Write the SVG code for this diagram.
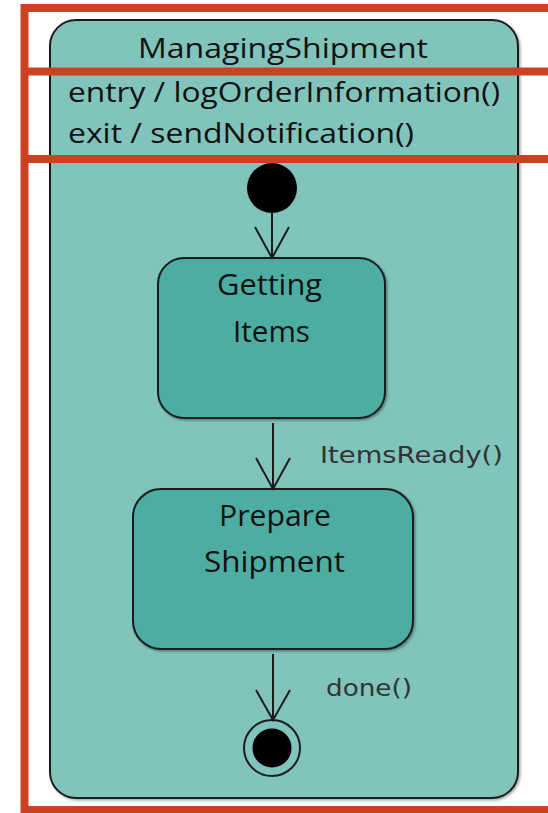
<svg xmlns="http://www.w3.org/2000/svg" width="548" height="813" viewBox="0 0 548 813">
  <defs>
    <style>
      .composite { fill: #80C4BC; stroke: #1c1c1c; stroke-width: 2; }
      .state { fill: #4DADA2; stroke: #1c1c1c; stroke-width: 2; }
      .title { font-family: "Open Sans", Lato, sans-serif; fill: #111; }
      .label { font-family: "DejaVu Sans", sans-serif; font-size: 23px; fill: #333; }
      .edge { stroke: #1c1c1c; stroke-width: 2; fill: none; }
      .head { stroke: #1c1c1c; stroke-width: 2; fill: none; stroke-linejoin: miter; }
      .mark { stroke: #CC4122; stroke-width: 8; fill: none; }
    </style>
    <filter id="shadow" x="-5%" y="-5%" width="110%" height="110%">
      <feDropShadow dx="1.5" dy="1.5" stdDeviation="1" flood-color="#000" flood-opacity="0.35"/>
    </filter>
  </defs>

  <rect width="548" height="813" fill="#ffffff"/>

  <!-- composite state with entry/exit actions -->
  <g id="state-ManagingShipment">
    <rect class="composite" x="50" y="20" width="468" height="778" rx="26" ry="26" filter="url(#shadow)"/>
    <text class="title" x="138" y="58" font-size="27" textLength="290" lengthAdjust="spacingAndGlyphs">ManagingShipment</text>
    <text class="title" x="68" y="102" font-size="27" textLength="432" lengthAdjust="spacingAndGlyphs">entry / logOrderInformation()</text>
    <text class="title" x="68" y="143" font-size="27" textLength="346" lengthAdjust="spacingAndGlyphs">exit / sendNotification()</text>
  </g>

  <!-- initial pseudo-state -->
  <g id="initial">
    <circle cx="272" cy="188" r="25" fill="#000"/>
  </g>

  <g id="state-GettingItems">
    <rect class="state" x="158" y="258" width="227" height="160" rx="26" ry="26" filter="url(#shadow)"/>
    <text class="title" x="217" y="295" font-size="30" textLength="105" lengthAdjust="spacingAndGlyphs">Getting</text>
    <text class="title" x="233" y="342" font-size="30" textLength="77" lengthAdjust="spacingAndGlyphs">Items</text>
  </g>

  <g id="state-PrepareShipment">
    <rect class="state" x="133" y="489" width="280" height="160" rx="28" ry="28" filter="url(#shadow)"/>
    <text class="title" x="219" y="526" font-size="30" textLength="112" lengthAdjust="spacingAndGlyphs">Prepare</text>
    <text class="title" x="204" y="572" font-size="30" textLength="141" lengthAdjust="spacingAndGlyphs">Shipment</text>
  </g>

  <!-- final state -->
  <g id="final">
    <circle cx="272" cy="748" r="28" fill="none" stroke="#1c1c1c" stroke-width="2"/>
    <circle cx="272" cy="748" r="19.5" fill="#000"/>
  </g>

  <!-- transitions -->
  <g id="connectors">
    <line class="edge" x1="272" y1="212" x2="272" y2="258"/>
    <polyline class="head" points="255,227 272,258 289,227"/>

    <line class="edge" x1="273" y1="423" x2="273" y2="489"/>
    <polyline class="head" points="256,458 273,489 290,458"/>
    <text class="label" x="320" y="463" textLength="183" lengthAdjust="spacingAndGlyphs">ItemsReady()</text>

    <line class="edge" x1="273" y1="654" x2="273" y2="720"/>
    <polyline class="head" points="256,690 273,720 290,690"/>
    <text class="label" x="326" y="696" textLength="86" lengthAdjust="spacingAndGlyphs">done()</text>
  </g>

  <!-- highlighted regions -->
  <g id="highlight">
    <rect class="mark" x="24.5" y="8" width="540" height="802"/>
    <line class="mark" x1="24.5" y1="71.5" x2="548" y2="71.5"/>
    <line class="mark" x1="24.5" y1="159" x2="548" y2="159"/>
  </g>
</svg>
